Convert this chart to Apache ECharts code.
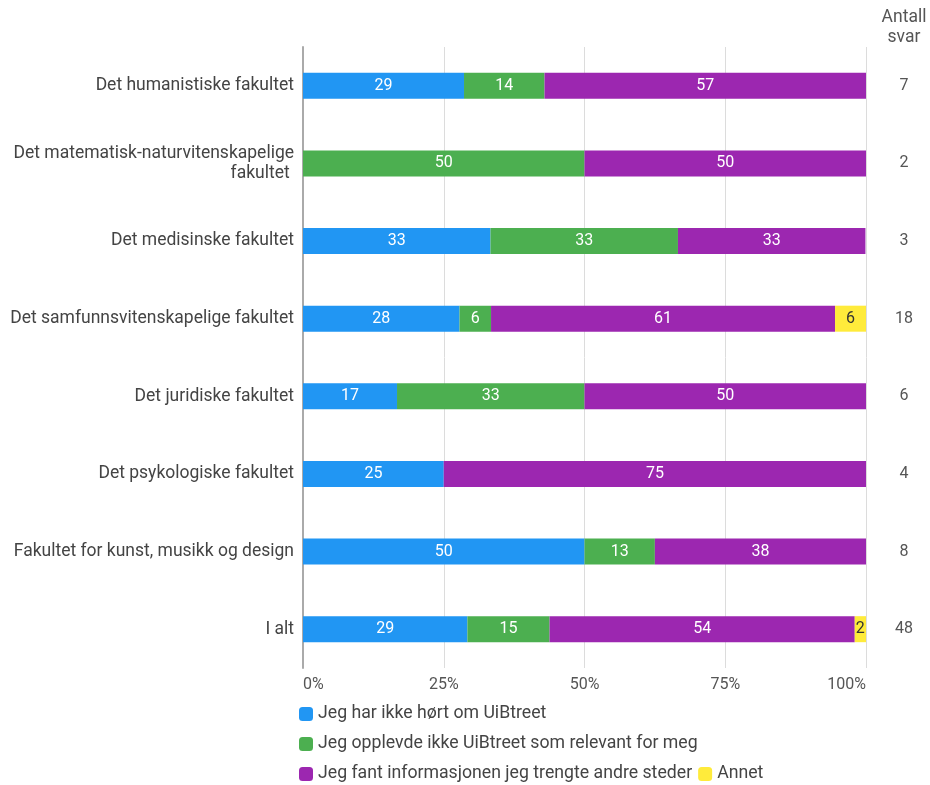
<!DOCTYPE html>
<html lang="no">
<head>
<meta charset="UTF-8">
<title>UiBtreet</title>
<script src="https://cdn.jsdelivr.net/npm/echarts@6/dist/echarts.min.js"></script>
<style>
  html, body { margin: 0; padding: 0; background: #fff; }
  #main { width: 930px; height: 785px; }
</style>
</head>
<body>
<div id="main"></div>
<script>
var categories = [
  'Det humanistiske fakultet',
  'Det matematisk-naturvitenskapelige\nfakultet ',
  'Det medisinske fakultet',
  'Det samfunnsvitenskapelige fakultet',
  'Det juridiske fakultet',
  'Det psykologiske fakultet',
  'Fakultet for kunst, musikk og design',
  'I alt'
];
var antallSvar = [7, 2, 3, 18, 6, 4, 8, 48];

var seriesNames = [
  'Jeg har ikke hørt om UiBtreet',
  'Jeg opplevde ikke UiBtreet som relevant for meg',
  'Jeg fant informasjonen jeg trengte andre steder',
  'Annet'
];
// andel i prosent, lest av figuren
var ikkeHort   = [28.6, 0,    33.3, 27.8, 16.7, 25, 50,   29.2];
var ikkeRelev  = [14.3, 50,   33.3, 5.6,  33.3, 0,  12.5, 14.6];
var andreSted  = [57.1, 50,   33.3, 61.1, 50,   75, 37.5, 54.2];
var annet      = [0,    0,    0,    5.6,  0,    0,  0,    2.1];
var xTicks = ['0%', '25%', '50%', '75%', '100%'];

var colors = ['#2196f3', '#4caf50', '#9c27b0', '#ffeb3b'];
var font = 'Roboto, sans-serif';

var myChart = echarts.init(document.getElementById('main'));

function makeSeries(name, data, color, labelColor) {
  return {
    name: name,
    type: 'bar',
    stack: 'total',
    barWidth: 26,
    data: data,
    itemStyle: { color: color },
    label: {
      show: true,
      position: 'inside',
      color: labelColor,
      fontFamily: font,
      fontSize: 16,
      formatter: function (p) {
        return p.value > 0 ? String(Math.round(p.value)) : '';
      }
    }
  };
}

var legendText = { color: '#444', fontFamily: font, fontSize: 17.7 };

function legendRow(names, top) {
  return {
    data: names, left: 299, top: top, padding: 0,
    itemWidth: 14, itemHeight: 14, itemGap: 6,
    icon: 'roundRect', textStyle: legendText
  };
}

var option = {
  animation: false,
  color: colors,
  textStyle: { fontFamily: font },
  graphic: [{
    type: 'text',
    x: 904,
    y: 8,
    style: {
      text: 'Antall\nsvar',
      align: 'center',
      fill: '#555',
      font: '17.5px Roboto, sans-serif',
      lineHeight: 20
    }
  }],
  legend: [
    legendRow([seriesNames[0]], 705),
    legendRow([seriesNames[1]], 735),
    legendRow([seriesNames[2], seriesNames[3]], 765)
  ],
  grid: { left: 303, right: 64, top: 47, bottom: 117, containLabel: false },
  xAxis: {
    type: 'value',
    min: 0,
    max: 100,
    interval: 25,
    axisLine: { show: false },
    axisTick: { show: false },
    splitLine: { show: true, lineStyle: { color: '#dcdcdc', width: 1 } },
    axisLabel: {
      color: '#555',
      fontFamily: font,
      fontSize: 16,
      margin: 9,
      alignMinLabel: 'left',
      alignMaxLabel: 'right',
      formatter: function (v) { return xTicks[v / 25]; }
    }
  },
  yAxis: [{
    type: 'category',
    data: categories,
    inverse: true,
    axisLine: { show: true, lineStyle: { color: '#aaa', width: 2 } },
    axisTick: { show: false },
    axisLabel: {
      color: '#444',
      fontFamily: font,
      fontSize: 17.5,
      margin: 9,
      lineHeight: 20,
      align: 'right'
    }
  }, {
    type: 'category',
    data: antallSvar,
    inverse: true,
    position: 'right',
    axisLine: { show: false },
    axisTick: { show: false },
    axisLabel: {
      color: '#555',
      fontFamily: font,
      fontSize: 16,
      margin: 38,
      align: 'center'
    }
  }],
  series: [
    makeSeries(seriesNames[0], ikkeHort, colors[0], '#fff'),
    makeSeries(seriesNames[1], ikkeRelev, colors[1], '#fff'),
    makeSeries(seriesNames[2], andreSted, colors[2], '#fff'),
    makeSeries(seriesNames[3], annet, colors[3], '#333')
  ]
};

myChart.setOption(option);
</script>
</body>
</html>
